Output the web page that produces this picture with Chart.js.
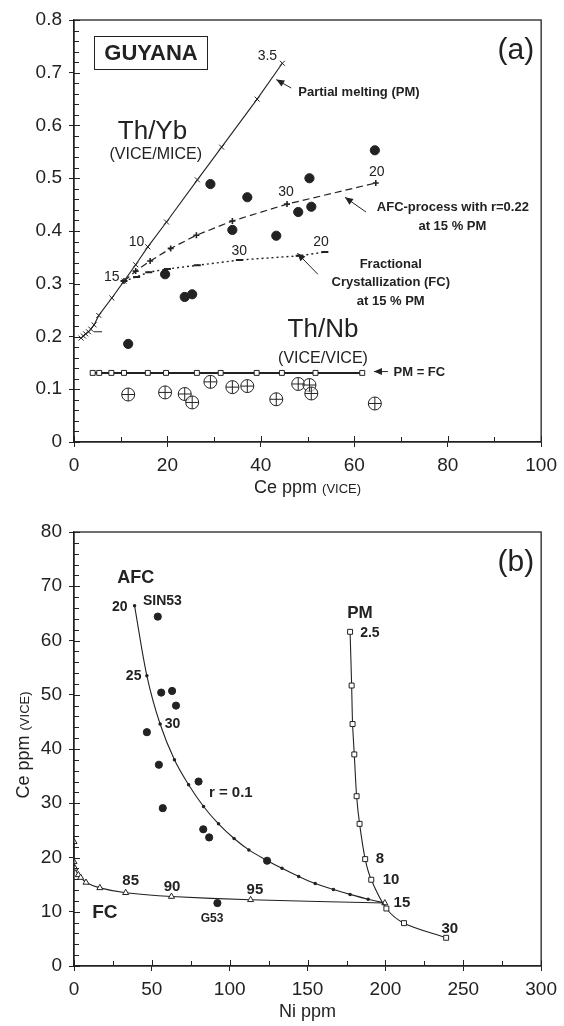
<!DOCTYPE html>
<html>
<head>
<meta charset="utf-8">
<script src="https://cdn.jsdelivr.net/npm/chart.js@4/dist/chart.umd.min.js"></script>
<style>
  body { margin: 0; background: #fff; }
  #wrap { position: relative; width: 564px; height: 1026px; }
  canvas { position: absolute; left: 0; }
</style>
</head>
<body>
<div id="wrap">
  <canvas id="chartA" width="564" height="500" style="top:0"></canvas>
  <canvas id="chartB" width="564" height="526" style="top:500px"></canvas>
</div>
<script>
/* ---- panel (a): Th/Yb and Th/Nb vs Ce ---- */
const pmCe   = [1.5, 2.0, 2.5, 3.1, 3.6, 4.3, 5.3, 8.1, 10.7, 13.2, 15.8, 19.8, 26.4, 31.6, 39.2, 44.6];
const pmThYb = [0.197, 0.201, 0.205, 0.209, 0.214, 0.222, 0.240, 0.273, 0.305, 0.336, 0.370, 0.417, 0.497, 0.559, 0.650, 0.718];

const afcCe   = [10.7, 13.2, 16.3, 20.7, 26.2, 33.9, 45.6, 64.6];
const afcThYb = [0.305, 0.324, 0.343, 0.367, 0.392, 0.419, 0.451, 0.491];

const fcCe   = [10.7, 13.4, 16.0, 20.0, 26.4, 35.4, 48.2, 53.7];
const fcThYb = [0.305, 0.313, 0.322, 0.328, 0.335, 0.345, 0.353, 0.360];

const pmMarkCe   = [4.2, 6.0];
const pmMarkThYb = [0.209, 0.209];

const modelNbCe = [4.0, 5.4, 8.0, 10.7, 15.8, 19.7, 26.3, 31.4, 39.1, 44.5, 51.7, 61.7];
const modelThNb = [0.131, 0.131, 0.131, 0.131, 0.131, 0.131, 0.131, 0.131, 0.131, 0.131, 0.131, 0.131];

const sampleCe   = [11.6, 19.5, 23.7, 25.3, 29.2, 33.9, 37.1, 43.3, 48.0, 50.4, 50.8, 64.4];
const sampleThYb = [0.186, 0.318, 0.275, 0.280, 0.489, 0.402, 0.464, 0.391, 0.436, 0.500, 0.446, 0.553];
const sampleThNb = [0.090, 0.094, 0.091, 0.075, 0.114, 0.104, 0.106, 0.081, 0.110, 0.108, 0.092, 0.073];

const ticksA_y = ['0', '0.1', '0.2', '0.3', '0.4', '0.5', '0.6', '0.7', '0.8'];

/* ---- panel (b): Ce vs Ni ---- */
const pmNi = [177.3, 178.3, 178.9, 180.0, 181.5, 183.4, 187.0, 190.9, 200.6, 211.9, 239.0];
const pmCeB = [61.6, 51.7, 44.6, 39.0, 31.3, 26.2, 19.7, 15.9, 10.6, 7.9, 5.2];

const afcNi = [38.9, 46.8, 55.3, 64.5, 73.6, 83.2, 92.8, 102.8, 112.3, 123.0, 133.6, 144.3, 154.9, 166.6, 177.3, 188.9, 199.6];
const afcCeB = [66.4, 53.5, 44.6, 38.0, 33.4, 29.4, 26.2, 23.5, 21.4, 19.6, 18.0, 16.5, 15.2, 14.1, 13.2, 12.3, 11.6];

const fcNi = [0, 0, 0.6, 2.8, 4.3, 7.7, 16.6, 33.2, 62.6, 113.4, 199.6];
const fcCeB = [22.9, 19.2, 18.0, 16.8, 16.3, 15.4, 14.4, 13.5, 12.8, 12.2, 11.6];

const sampleNi  = [53.8, 56.0, 63.0, 65.5, 46.8, 54.5, 80.0, 57.0, 83.0, 86.8, 124.0, 92.1];
const sampleCeB = [64.4, 50.4, 50.7, 48.0, 43.1, 37.1, 34.0, 29.1, 25.2, 23.7, 19.4, 11.6];

const ink = '#222';
const FONT = 'Arial, "Liberation Sans", sans-serif';

const xy = (xs, ys) => xs.map((x, i) => ({ x: x, y: ys[i] }));

// inner ticks, frame, texts, arrows
const decor = {
  id: 'decor',
  afterDraw(chart, args, o) {
    const ctx = chart.ctx, a = chart.chartArea;
    const sx = chart.scales.x, sy = chart.scales.y;
    ctx.save();
    ctx.strokeStyle = ink;
    ctx.fillStyle = ink;
    ctx.lineWidth = 1;
    ctx.beginPath();
    for (let v = sx.min; v <= sx.max + 1e-9; v += o.xMinor) {
      const p = Math.round(sx.getPixelForValue(v)) + 0.5;
      const major = Math.abs(v / o.xMajor - Math.round(v / o.xMajor)) < 1e-6;
      ctx.moveTo(p, a.bottom);
      ctx.lineTo(p, a.bottom - (major ? 6 : 5));
    }
    for (let v = sy.min; v <= sy.max + 1e-9; v += o.yMinor) {
      const p = Math.round(sy.getPixelForValue(v)) + 0.5;
      const major = Math.abs(v / o.yMajor - Math.round(v / o.yMajor)) < 1e-6;
      ctx.moveTo(a.left, p);
      ctx.lineTo(a.left + (major ? 6 : 5), p);
    }
    ctx.stroke();
    ctx.lineWidth = 1.3;
    ctx.strokeRect(a.left, a.top, a.right - a.left, a.bottom - a.top);

    (o.arrows || []).forEach(ar => {
      const x1 = sx.getPixelForValue(ar.from[0]), y1 = sy.getPixelForValue(ar.from[1]);
      const x2 = sx.getPixelForValue(ar.to[0]), y2 = sy.getPixelForValue(ar.to[1]);
      const ang = Math.atan2(y2 - y1, x2 - x1);
      ctx.lineWidth = 1;
      ctx.beginPath(); ctx.moveTo(x1, y1); ctx.lineTo(x2, y2); ctx.stroke();
      ctx.beginPath();
      ctx.moveTo(x2, y2);
      ctx.lineTo(x2 - 8 * Math.cos(ang) + 3.5 * Math.sin(ang), y2 - 8 * Math.sin(ang) - 3.5 * Math.cos(ang));
      ctx.lineTo(x2 - 8 * Math.cos(ang) - 3.5 * Math.sin(ang), y2 - 8 * Math.sin(ang) + 3.5 * Math.cos(ang));
      ctx.closePath(); ctx.fill();
    });

    ctx.textBaseline = 'middle';
    (o.notes || []).forEach(n => {
      ctx.font = n.font + ' ' + FONT;
      ctx.textAlign = n.align || 'center';
      ctx.fillText(n.text, sx.getPixelForValue(n.x), sy.getPixelForValue(n.y));
    });

    // panel letter and boxed label (pixels from the plot frame)
    if (o.letter) {
      ctx.font = '30px ' + FONT;
      ctx.textAlign = 'right';
      ctx.fillText(o.letter, a.right - 7, a.top + 31);
    }
    if (o.box) {
      ctx.lineWidth = 1;
      ctx.strokeRect(a.left + 20.5, a.top + 16.5, 113, 33);
      ctx.font = 'bold 22px ' + FONT;
      ctx.textAlign = 'center';
      ctx.fillText(o.box, a.left + 77, a.top + 33.5);
    }

    // axis titles with mixed font sizes
    const drawParts = (parts) => {
      let w = 0;
      parts.forEach(p => { ctx.font = p[1] + ' ' + FONT; w += ctx.measureText(p[0]).width; });
      let x = -w / 2;
      ctx.textAlign = 'left';
      ctx.textBaseline = 'alphabetic';
      parts.forEach(p => { ctx.font = p[1] + ' ' + FONT; ctx.fillText(p[0], x, 0); x += ctx.measureText(p[0]).width; });
    };
    if (o.xTitle) {
      ctx.save();
      ctx.translate((a.left + a.right) / 2, a.bottom + 51);
      drawParts(o.xTitle);
      ctx.restore();
    }
    if (o.yTitle) {
      ctx.save();
      ctx.translate(29, (a.top + a.bottom) / 2 - 4);
      ctx.rotate(-Math.PI / 2);
      drawParts(o.yTitle);
      ctx.restore();
    }
    ctx.restore();
  }
};

function axes(xMax, xStep, yMax, yStep, yLabels, xH, yW) {
  return {
    x: {
      type: 'linear', min: 0, max: xMax,
      ticks: { stepSize: xStep, color: ink, font: { size: 19, family: FONT }, padding: 7, maxRotation: 0 },
      grid: { drawOnChartArea: false, tickLength: 5, color: ink },
      border: { color: ink, width: 1.3 },
      afterFit: s => { s.height = xH; }
    },
    y: {
      type: 'linear', min: 0, max: yMax,
      ticks: {
        stepSize: yStep, color: ink, font: { size: 19, family: FONT }, padding: 7,
        callback: (v, i) => yLabels ? yLabels[i] : String(v)
      },
      grid: { drawOnChartArea: false, tickLength: 5, color: ink },
      border: { color: ink, width: 1.3 },
      afterFit: s => { s.width = yW; }
    }
  };
}

const commonPlugins = { legend: { display: false }, tooltip: { enabled: false } };

new Chart(document.getElementById('chartA'), {
  type: 'scatter',
  data: {
    datasets: [
      { data: xy(sampleCe, sampleThNb), pointStyle: 'cross', pointRadius: 6.5, borderColor: ink, borderWidth: 1 },
      { data: xy(sampleCe, sampleThNb), pointStyle: 'circle', pointRadius: 6.5, backgroundColor: 'rgba(255,255,255,0.6)', borderColor: ink, borderWidth: 1 },
      { data: xy(sampleCe, sampleThYb), pointStyle: 'circle', pointRadius: 4.6, backgroundColor: ink, borderColor: ink },
      { data: xy(modelNbCe, modelThNb), showLine: true, borderColor: ink, borderWidth: 2, pointStyle: 'rect', pointRadius: 3.5, pointBackgroundColor: '#fff', pointBorderColor: ink, pointBorderWidth: 1 },
      { data: xy(pmCe, pmThYb), showLine: true, borderColor: ink, borderWidth: 1.1, pointStyle: 'crossRot', pointRadius: 3.5, pointBorderColor: ink, pointBorderWidth: 1 },
      { data: xy(afcCe, afcThYb), showLine: true, borderColor: ink, borderWidth: 1.2, borderDash: [7, 4], pointStyle: 'cross', pointRadius: 3, pointBorderColor: ink, pointBorderWidth: 1.6 },
      { data: xy(fcCe, fcThYb), showLine: true, borderColor: ink, borderWidth: 1.4, borderDash: [2, 3], pointStyle: 'line', pointRadius: 3.5, pointBorderColor: ink, pointBorderWidth: 2 },
      { data: xy(pmMarkCe, pmMarkThYb), showLine: true, borderColor: ink, borderWidth: 1, pointRadius: 0 }
    ]
  },
  options: {
    responsive: false, animation: false, devicePixelRatio: 1,
    layout: { padding: { top: 20, right: 21, left: 0, bottom: 0 } },
    scales: axes(100, 20, 0.8, 0.1, ticksA_y, 58, 74),
    plugins: Object.assign({}, commonPlugins, {
      decor: {
        xMinor: 10, xMajor: 20, yMinor: 0.02, yMajor: 0.1,
        letter: '(a)', box: 'GUYANA',
        xTitle: [['Ce ppm ', '18px'], ['(VICE)', '13px']],
        arrows: [
          { from: [46.5, 0.671], to: [43.3, 0.687] },
          { from: [62.5, 0.436], to: [58.0, 0.464] },
          { from: [52.2, 0.318], to: [47.8, 0.358] },
          { from: [67.2, 0.1335], to: [64.2, 0.1335] }
        ],
        notes: [
          { x: 41.4, y: 0.731, text: '3.5', font: '14px' },
          { x: 48.0, y: 0.662, text: 'Partial melting (PM)', font: 'bold 13px', align: 'left' },
          { x: 16.8, y: 0.588, text: 'Th/Yb', font: '26px' },
          { x: 17.5, y: 0.545, text: '(VICE/MICE)', font: '16px' },
          { x: 13.4, y: 0.378, text: '10', font: '14px' },
          { x: 8.1, y: 0.313, text: '15', font: '14px' },
          { x: 45.4, y: 0.474, text: '30', font: '14px' },
          { x: 64.8, y: 0.511, text: '20', font: '14px' },
          { x: 35.4, y: 0.362, text: '30', font: '14px' },
          { x: 52.9, y: 0.378, text: '20', font: '14px' },
          { x: 81.1, y: 0.444, text: 'AFC-process with r=0.22', font: 'bold 13px' },
          { x: 81.0, y: 0.408, text: 'at 15 % PM', font: 'bold 13px' },
          { x: 67.8, y: 0.336, text: 'Fractional', font: 'bold 13px' },
          { x: 67.8, y: 0.302, text: 'Crystallization (FC)', font: 'bold 13px' },
          { x: 67.8, y: 0.267, text: 'at 15 % PM', font: 'bold 13px' },
          { x: 53.3, y: 0.213, text: 'Th/Nb', font: '26px' },
          { x: 53.3, y: 0.159, text: '(VICE/VICE)', font: '16px' },
          { x: 68.4, y: 0.1325, text: 'PM = FC', font: 'bold 13px', align: 'left' }
        ]
      }
    })
  },
  plugins: [decor]
});

new Chart(document.getElementById('chartB'), {
  type: 'scatter',
  data: {
    datasets: [
      { data: xy(sampleNi, sampleCeB), pointStyle: 'circle', pointRadius: 3.6, backgroundColor: ink, borderColor: ink },
      { data: xy(pmNi, pmCeB), showLine: true, tension: 0.3, borderColor: ink, borderWidth: 1.1, pointStyle: 'rect', pointRadius: 3.5, pointBackgroundColor: '#fff', pointBorderColor: ink, pointBorderWidth: 1 },
      { data: xy(fcNi, fcCeB), showLine: true, tension: 0.2, borderColor: ink, borderWidth: 1.1, pointStyle: 'triangle', pointRadius: 3.5, pointBackgroundColor: '#fff', pointBorderColor: ink, pointBorderWidth: 1 },
      { data: xy(afcNi, afcCeB), showLine: true, tension: 0.3, borderColor: ink, borderWidth: 1.1, pointStyle: 'circle', pointRadius: 1.2, pointBackgroundColor: ink, pointBorderColor: ink }
    ]
  },
  options: {
    responsive: false, animation: false, devicePixelRatio: 1,
    layout: { padding: { top: 32, right: 20, left: 0, bottom: 0 } },
    scales: axes(300, 50, 80, 10, null, 60, 74),
    plugins: Object.assign({}, commonPlugins, {
      decor: {
        xMinor: 25, xMajor: 50, yMinor: 2, yMajor: 10,
        letter: '(b)',
        xTitle: [['Ni ppm', '18px']],
        yTitle: [['Ce ppm ', '18px'], ['(VICE)', '13px']],
        notes: [
          { x: 39.6, y: 71.5, text: 'AFC', font: 'bold 18px' },
          { x: 29.4, y: 66.2, text: '20', font: 'bold 14px' },
          { x: 56.8, y: 67.3, text: 'SIN53', font: 'bold 14px' },
          { x: 38.3, y: 53.5, text: '25', font: 'bold 14px' },
          { x: 63.2, y: 44.6, text: '30', font: 'bold 14px' },
          { x: 100.7, y: 31.9, text: 'r = 0.1', font: 'bold 15px' },
          { x: 36.4, y: 15.7, text: '85', font: 'bold 15px' },
          { x: 63.0, y: 14.6, text: '90', font: 'bold 15px' },
          { x: 116.2, y: 14.0, text: '95', font: 'bold 15px' },
          { x: 19.8, y: 9.8, text: 'FC', font: 'bold 19px' },
          { x: 88.7, y: 8.8, text: 'G53', font: 'bold 12px' },
          { x: 183.6, y: 65.1, text: 'PM', font: 'bold 17px' },
          { x: 190.0, y: 61.4, text: '2.5', font: 'bold 14px' },
          { x: 196.4, y: 19.7, text: '8', font: 'bold 15px' },
          { x: 203.6, y: 15.9, text: '10', font: 'bold 15px' },
          { x: 210.6, y: 11.6, text: '15', font: 'bold 15px' },
          { x: 241.3, y: 6.8, text: '30', font: 'bold 15px' }
        ]
      }
    })
  },
  plugins: [decor]
});
</script>
</body>
</html>
